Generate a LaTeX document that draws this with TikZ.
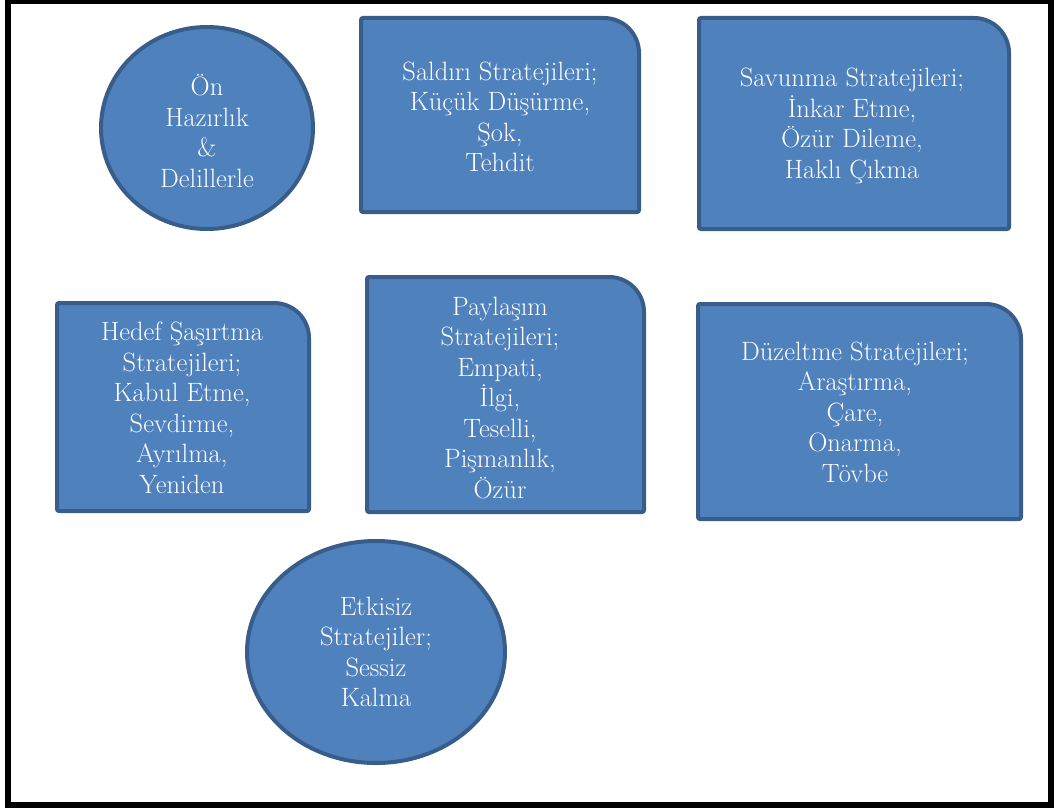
\documentclass[tikz,border=0pt]{standalone}
\usepackage{fontspec}
\usetikzlibrary{backgrounds}
\definecolor{shapefill}{HTML}{4F81BD}
\definecolor{shapeline}{HTML}{385D8A}
\tikzset{
  txt/.style={text=white, align=center, inner sep=0pt, font=\rmfamily\fontsize{26.5}{30.5}\selectfont},
  shapestyle/.style={fill=shapefill, draw=shapeline, line width=4pt},
  frame/.style={draw=black, line width=6pt}
}
\newcommand{\snipbox}[5]{% name, left, top, right, bottom
  \begin{scope}[on background layer]
    \draw[shapestyle, rounded corners=2pt] (#2,#5) -- (#2,#3) [rounded corners=35pt] -- (#4,#3) [rounded corners=2pt] -- (#4,#5) -- cycle;
  \end{scope}
  \coordinate (#1) at ({(#2+#4)/2},{(#3+#5)/2});
}
\begin{document}
\begin{tikzpicture}[x=1pt,y=-1pt]
\useasboundingbox (0,0) rectangle (1054,808);
\draw[frame] (8,1) rectangle (1051,805);

% circle
\draw[shapestyle] (207,128) ellipse [x radius=106, y radius=101];
\node[txt] (onhaz) at (207,131) {Ön\\Hazırlık\\\&\\Delillerle};

% Saldiri
\snipbox{saldiriC}{361}{18}{639}{212}
\node[txt] (saldiri) at (500,117) {Saldırı Stratejileri;\\Küçük Düşürme,\\Şok,\\Tehdit};

% Savunma
\snipbox{savunmaC}{699}{18}{1009}{229}
\node[txt] (savunma) at (852,126) {Savunma Stratejileri;\\İnkar Etme,\\Özür Dileme,\\Haklı Çıkma};

% Hedef
\snipbox{hedefC}{57}{303}{309}{511}
\node[txt] (hedef) at (182,408) {Hedef Şaşırtma\\Stratejileri;\\Kabul Etme,\\Sevdirme,\\Ayrılma,\\Yeniden};

% Paylasim
\snipbox{paylasimC}{367}{277}{644}{512}
\node[txt] (paylasim) at (500,398) {Paylaşım\\Stratejileri;\\Empati,\\İlgi,\\Teselli,\\Pişmanlık,\\Özür};

% Duzeltme
\snipbox{duzeltmeC}{698}{304}{1021}{519}
\node[txt] (duzeltme) at (855,412) {Düzeltme Stratejileri;\\Araştırma,\\Çare,\\Onarma,\\Tövbe};

% Etkisiz ellipse
\draw[shapestyle] (376,652) ellipse [x radius=129, y radius=111];
\node[txt] (etkisiz) at (376,652) {Etkisiz\\Stratejiler;\\Sessiz\\Kalma};
\end{tikzpicture}
\end{document}
